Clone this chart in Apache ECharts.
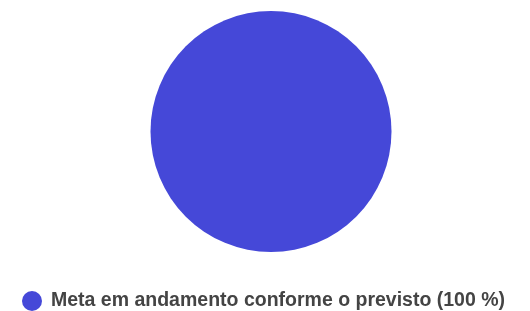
<!DOCTYPE html>
<html>
<head>
<meta charset="utf-8">
<script src="https://cdn.jsdelivr.net/npm/echarts@6/dist/echarts.min.js"></script>
<style>
  html, body { margin: 0; padding: 0; background: #fff; }
</style>
</head>
<body>
<div id="main" style="width: 530px;height:311px;"></div>
<script>
const categories = ['Meta em andamento conforme o previsto'];
const values = [1];
const percentLabels = ['100 %'];

var myChart = echarts.init(document.getElementById('main'));
let option = {
  animation: false,
  color: ['#4548d8'],
  legend: {
    left: 17,
    top: 286,
    icon: 'circle',
    itemWidth: 20,
    itemHeight: 20,
    itemGap: 10,
    textStyle: {
      fontFamily: 'Liberation Sans',
      fontSize: 19.5,
      fontWeight: 'bold',
      color: '#444',
      padding: [0, 0, 0, 4]
    },
    formatter: function (name) {
      const i = categories.indexOf(name);
      return name + ' (' + percentLabels[i] + ')';
    }
  },
  series: [
    {
      type: 'pie',
      center: [271, 131.5],
      radius: 120.5,
      label: { show: false },
      labelLine: { show: false },
      emphasis: { disabled: true },
      itemStyle: { borderWidth: 0 },
      data: categories.map((c, i) => ({ name: c, value: values[i] }))
    }
  ]
};
myChart.setOption(option);
</script>
</body>
</html>
